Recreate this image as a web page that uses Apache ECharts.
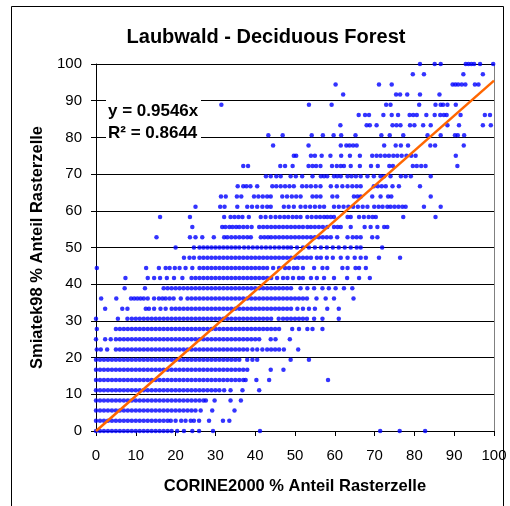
<!DOCTYPE html>
<html><head><meta charset="utf-8">
<script src="https://cdn.jsdelivr.net/npm/echarts@6/dist/echarts.min.js"></script>
<style>html,body{margin:0;padding:0;background:#fff}#c{width:510px;height:506px}</style>
</head><body><div id="c"></div>
<script>
// y levels (Smiatek98 %) – values are quantised to 1/36 steps
const yLevels = [0, 2.78, 5.56, 8.33, 11.11, 13.89, 16.67, 19.44, 22.22, 25, 27.78, 30.56, 33.33, 36.11, 38.89, 41.67, 44.44, 47.22, 50, 52.78, 55.56, 58.33, 61.11, 63.89, 66.67, 69.44, 72.22, 75, 77.78, 80.56, 83.33, 86.11, 88.89, 91.67, 94.44, 97.22, 100];
// CORINE2000 % values observed on each y level
const xRows = [
[0,1,2,3,4,5,6,7,8,9,10,11,12,13,14,15,16,17,18,19,20.4,22.1,24.2,25.9,29.4,41.2,71.4,76.3,82.7],
[0,1,2,3,4,5,6,7,8,9,10,11,12,13,14,15,16,17,18,18.8,20,21.4,22.5,23.8,24.6,25.9,28.4,31.9,33.5],
[0,1,2,3,4,5,6,7,8,9,10,11,12,13,14,15,16,17,18,19,20,21,22,23,24,25,26.3,29.2,34.8],
[0,1,2,3,4,5,6,7,8,9,10,11,12,13,14,15,16,17,18,19,20,21,22,23,24,25,26,27,27.6,29.8,33.8,36.4],
[0,1,2,3,4,5,6,7,8,9,10,11,12,13,14,15,16,17,18,19,20,21,22,23,24,25,26,27,28,29,30,31,32.2,33.8,36.8,41],
[0,1,2,3,4,5,6,7,8,9,10,11,12,13,14,15,16,17,18,19,20,21,22,23,24,25,26,27,28,29,30,31,32,33,34,35,36,37,37.6,40.3,43.5,58.3],
[0,1,2,3,4,5,6,7,8,9,10,11,12,13,14,15,16,17,18,19,20,21,22,23,24,25,26,27,28,29,30,31,32,33,34,35,36,37,38,43.9,47.1],
[0,1,2,3,4,5,6,7,8,9,10,11,12,13,14,15,16,17,18,19,20,21,22,23,24,25,26,27,28,29,30,31,32,33,34,35,36,38,39.3,40.5,48.9,53.5],
[0.2,1.2,2.8,5,6,7,8,9,10,11,12,13,14,15,16,17,18,19,20,21,22,23,24,25,26,27,28,29,30,31,32,33,34,35,36,37,38,39.3,40.5,41.8,43,44,45,46,47.2,50.8],
[0,2.3,3.7,5,6,7,8,9,10,11,12,13,14,15,16,17,18,19,20,21,22,23,24,25,26,27,28,29,30,31,32,33,34,35,36,37,38,39,40,41,43.9,45.1,48.7],
[0.2,5,6,7,8,9,10,11,12,13,14,15,16,17,18,19,20,21,22,23,24,25,26,27,28,29,30,31,32,33,34,35,36,37,38,39,40,41,42,43,44,45,46,49.3,51,53.1,54.4,56.9],
[0,5.5,7.9,9,10,11,12,13,14,15,16,17,18,19,20,21,22,23,24,25,26,27,28,29,30,31,32,33,34,35,36,37,38,39,40,41,42,43,44,45.9,47,48,49,50,51,52,53,54.8,56.9,61],
[2.3,6.6,7.9,12.5,13.3,14.6,16.2,17.5,19,20,21,22,23,24,25,26,27,28,29,30,31,32,33,34,35,36,37,38,39,40,41,42,43,44,45,46,47,48,49,50.6,52,53.5,55,58.1,61],
[1.3,5.1,8.8,9.6,10.4,11.2,12,13,14.6,15.8,16.7,17.5,18.5,19.5,21.3,23,24,25,26,27,28,29,30,31,32,33,34,35,36,37,38,39,40,41,42,43,44,45,46,47,48,49,50,51,52,53,55.4,57.7,59.8,64.7],
[7.2,12.3,17,18,19,20,21,22,23,24,25,26,27,28,29,30,31,32,33,34,35,36,37,38,39,40,41,42,43,44,45,46,47,48,49,51.4,53.1,54.8,56.9,58.5,60.2,62.3,64.4],
[7.4,13,14.6,16.1,17.8,19.6,21.7,24,25,26,27,28,29,30,31,32,33,34,35,36,37,38,39,40,41,42,43,44,45.5,47,48.1,49.5,51,52,54,55.5,57.3,59.8,63.1,66.1,68.8],
[0.2,12.6,15.8,17.5,18.5,19.8,21,22.5,24.2,26,27,28,29,30,31,32,33,34,35,36,37,38,39,40,41,42,43,44.5,46,47.5,48.5,49.7,50.6,52,54.8,56.9,58.1,61.9,63.2,65.2,66.1,67.8],
[22.1,23.5,24.6,26,27,28,29,30,31,32,33,34,35,36,37,38,39,40,41,42,43,44,45,46,47,48,49,50,51,52,53,54,55.5,56.5,58,59.5,61.5,63.2,65,66.5,67.8,71.1,76.4],
[20,24.6,26,27,28,29,30,31,32,33,34,35,36,37.2,38.3,39.4,40.5,41.6,42.7,43.8,44.9,46,47.1,48.1,49,50.5,52,53.5,55,56.5,58,59.5,61,62.5,64,65.5,66.5,71.9],
[15.2,23.6,25,26.7,29.6,32.2,33,34,35,36,37,38,38.9,41.4,42.3,43.2,44,45,46,47,48,49,50,51,52,53,54,55,56,57,58,59,60.6,63.2,64.5,65.5,66.5,69.4,70.7],
[24.2,31.7,32.5,33.5,34.3,35.2,36,37,38,39.1,41,42,43,44,45,46,47,48,49,50,51,52,53.1,54,55,56,57,58.1,59.8,60.7,61.5,64,67.5,69,70.7,72.4,73.2],
[16.1,23.6,32.2,33.8,34.8,35.8,36.8,38.4,41.4,42.6,43.9,45.1,46.2,47.3,48.3,49.4,50.4,51.4,53.1,54.2,55.3,56.3,57.3,58.1,59,59.8,63.2,64,66.1,67.3,68.5,69.5,70.3,77.2,85.3],
[25,31.2,32.3,35.5,38,39.2,40.5,41.8,43,43.9,47.2,48.4,49.7,51.4,52.6,53.8,55,56.2,57.3,59.8,61,62.2,63.4,64.6,65.8,67,68.2,69.9,71,72,73.2,74,75,76,77,77.8,82.4,86.6],
[31.4,32.6,35.4,36.5,39.7,40.8,41.9,43,43.9,46.8,48,49.2,50.3,51.4,54.4,55.4,56.4,59.4,60.6,64.8,65.7,66.5,69.4,71.5,73.4,74.2,84.1],
[35.6,37,37.8,38.8,40.5,44.3,45.3,46.4,47.5,48.6,49.7,51.8,52.9,54,55.2,56.4,59,60.5,61.9,63.2,64.4,65.5,66.5,69.8,70.8,71.8,72.8,74.5,76.1,81.4],
[42.7,43.9,45.3,46.4,48.9,50.2,51.8,54.4,56.5,57.3,58.1,59.8,60.6,61.5,63.2,64.2,65.3,66.5,68.2,69.8,71.5,72.4,74,76.6,77.8,79.1,84.1],
[37,38.2,46.3,47.5,49.4,53.4,54.4,55.3,56.4,59.3,60.5,61.5,62.3,64,66.3,69.1,70.8,73.7,74.6,79.6,80.6,81.7,82.8,90.8],
[49.7,50.3,54,55,56.7,58.9,61.6,63.8,66.3,69.4,70.5,71.5,72.6,73.6,74.7,75.7,76.8,78,79.2,80.3,90.4],
[44.5,53.4,61.5,62.9,63.7,64.6,65.5,72.4,75.3,76.6,78.4,84,85.2,92.4],
[43.3,46.9,54.2,57,59.7,61.6,65.2,71.7,73.8,77.2,83.3,86.6,90.2,90.9,92.5],
[61.4,68,68.8,70.5,74.5,75.5,76.5,78.9,80,82.2,84.1,88.3,91.2,97.2,99.2],
[66,67.6,68.6,72.2,74.3,75.9,78.8,79.7,80.6,83,85.1,86.5,87.4,88.1,91.6,97.7,99],
[31.5,53.5,59.2,72.9,74,81.2,85.3,86.6,87.2,88.3,90.4],
[62.1,75.4,76.4,78.2,81.4,86.3],
[60.2,71.1,74.3,89.6,90.3,91,91.9,92.8,95.2,96.1],
[79.6,82.4,92.3,97.2],
[81.4,85.1,86.6,92.9,93.6,94.3,95,96.5,99.8]
];
const trendSlope = 0.9546;
const rSquared = 0.8644;
const chartTitle = 'Laubwald - Deciduous Forest';
const xName = 'CORINE2000 % Anteil Rasterzelle';
const yName = 'Smiatek98 % Anteil Rasterzelle';

const points = [];
yLevels.forEach((y, i) => xRows[i].forEach(x => points.push([x, y])));
const trend = [[0, 0], [100, trendSlope * 100]];

const F = '"Liberation Sans", Arial, sans-serif';
const chart = echarts.init(document.getElementById('c'), null, {renderer: 'canvas'});
chart.setOption({
  animation: false,
  backgroundColor: '#fff',
  grid: {left: 96, top: 64, width: 398, height: 367, containLabel: false},
  xAxis: {
    type: 'value', min: 0, max: 100, interval: 10,
    axisLine: {show: true, onZero: false, lineStyle: {color: '#000', width: 1}},
    axisTick: {show: true, length: 5, lineStyle: {color: '#000'}},
    axisLabel: {color: '#000', fontSize: 15, fontFamily: F, margin: 17},
    splitLine: {show: false},
    name: xName, nameLocation: 'middle', nameGap: 47,
    nameTextStyle: {fontSize: 16.5, fontWeight: 'bold', fontFamily: F, color: '#000'}
  },
  yAxis: {
    type: 'value', min: 0, max: 100, interval: 10,
    axisLine: {show: true, onZero: false, lineStyle: {color: '#000', width: 1}},
    axisTick: {show: true, length: 5, lineStyle: {color: '#000'}},
    axisLabel: {color: '#000', fontSize: 15, fontFamily: F, margin: 14},
    splitLine: {show: true, lineStyle: {color: '#000', width: 1}},
    name: yName, nameLocation: 'middle', nameGap: 50, nameRotate: 90,
    nameTextStyle: {fontSize: 16.5, fontWeight: 'bold', fontFamily: F, color: '#000'}
  },
  series: [
    {type: 'scatter', data: points, symbol: 'circle', symbolSize: 4.5,
     itemStyle: {color: '#0000FF'}, z: 2, silent: true},
    {type: 'line', data: trend, showSymbol: false, symbol: 'none',
     lineStyle: {color: '#FF6600', width: 2.5}, z: 3, silent: true}
  ],
  graphic: [
    {type: 'rect', shape: {x: 11.5, y: 6.5, width: 492, height: 530}, style: {fill: null, stroke: '#000', lineWidth: 1}, silent: true},
    {type: 'line', shape: {x1: 494.5, y1: 64, x2: 494.5, y2: 431}, style: {stroke: '#808080', lineWidth: 1}, silent: true},
    {type: 'text', x: 266, y: 37, style: {text: chartTitle, font: 'bold 20px ' + F, fill: '#000', align: 'center', verticalAlign: 'middle', textAlign: 'center', textVerticalAlign: 'middle'}},
    {type: 'rect', shape: {x: 106, y: 96, width: 95, height: 46}, style: {fill: '#fff', stroke: null}, z: 50},
    {type: 'text', x: 108, y: 111, z: 51, style: {text: 'y = ' + trendSlope + 'x', font: 'bold 17px ' + F, fill: '#000', align: 'left', verticalAlign: 'middle', textAlign: 'left', textVerticalAlign: 'middle'}},
    {type: 'text', x: 108, y: 133, z: 51, style: {text: 'R\u00B2 = ' + rSquared, font: 'bold 17px ' + F, fill: '#000', align: 'left', verticalAlign: 'middle', textAlign: 'left', textVerticalAlign: 'middle'}}
  ]
});
</script></body></html>
